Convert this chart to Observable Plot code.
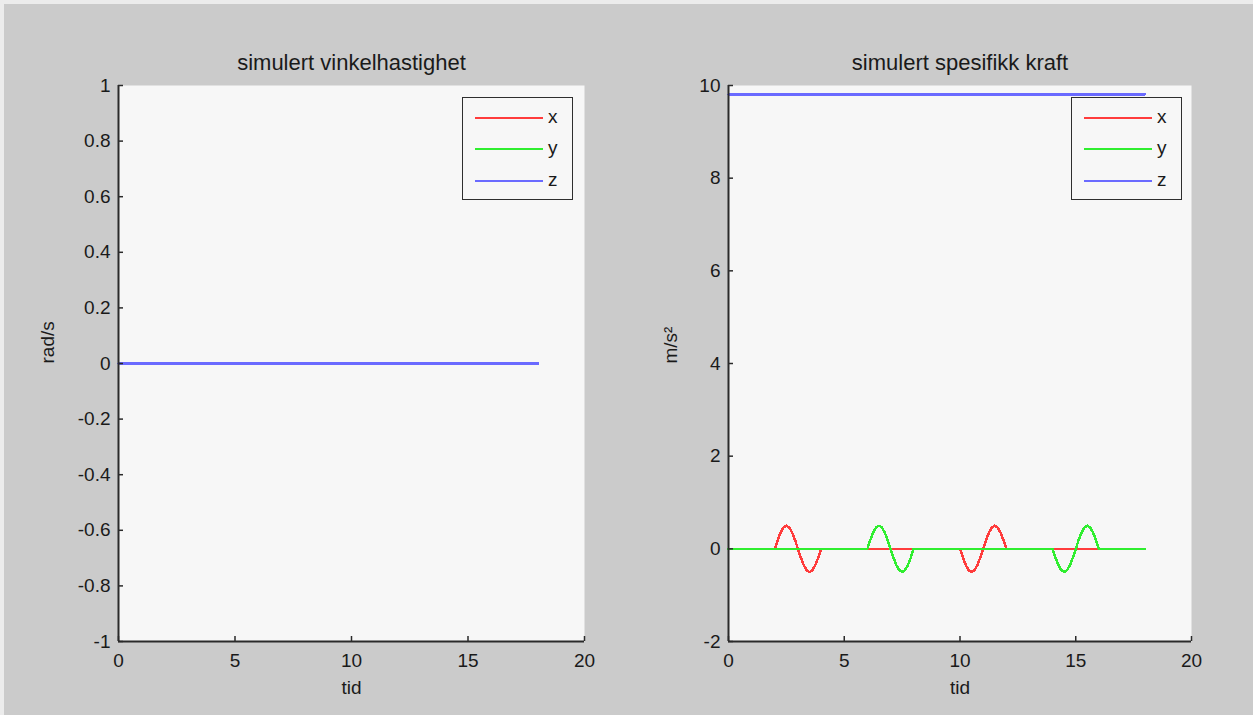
<!DOCTYPE html>
<html>
<head>
<meta charset="utf-8">
<script src="https://cdn.jsdelivr.net/npm/d3@7"></script>
<script src="https://cdn.jsdelivr.net/npm/@observablehq/plot@0.6"></script>
<style>
  html, body { margin: 0; padding: 0; background: #ececec; }
  body { width: 1253px; height: 715px; position: relative; overflow: hidden; }
  #fig { position: absolute; left: 4px; top: 4px; right: 0; bottom: 0; background: #cbcbcb; }
  .panel { position: absolute; top: 0; }
  .legend { position: absolute; top: 97px; width: 109px; height: 101px; border: 1.5px solid #2e2e2e;
            background: #f7f7f7; font: 19px "Liberation Sans", Arial, sans-serif; color: #1a1a1a; }
  .legend .swatch { position: absolute; left: 12px; width: 68px; height: 2px; }
  .legend .label { position: absolute; left: 85px; line-height: 20px; }
</style>
</head>
<body>
<div id="fig"></div>
<script>
// Series names and their line colours
const series = ["x", "y", "z"];
const seriesColors = ["#ff3c3c", "#30ee30", "#6a6aff"];

// Simulation time span and axis ticks
const tStart = 0;
const tEnd = 18;
const xTicks = [0, 5, 10, 15, 20];
const yTicksRate = [-1, -0.8, -0.6, -0.4, -0.2, 0, 0.2, 0.4, 0.6, 0.8, 1];
const yTicksForce = [-2, 0, 2, 4, 6, 8, 10];

// Angular rate (rad/s) is zero on all three axes throughout
const omegaLevel = [0, 0, 0];

// One 2 s disturbance period, sampled every 0.125 s (m/s^2)
const pulseStep = 0.125;
const pulse = [0, 0.19, 0.35, 0.46, 0.5, 0.46, 0.35, 0.19, 0,
               -0.19, -0.35, -0.46, -0.5, -0.46, -0.35, -0.19, 0];

// Where each disturbance begins and which way it swings first
const fxStarts = [2, 10];
const fxSigns = [1, -1];
const fyStarts = [6, 14];
const fySigns = [1, -1];
const fzLevel = 9.81;

// Build a time series: flat zero with the disturbance inserted at each start time
function pulsedSeries(name, starts, signs) {
  const rows = [{s: name, t: tStart, v: 0}];
  starts.forEach((t0, k) => {
    pulse.forEach((p, i) => rows.push({s: name, t: t0 + i * pulseStep, v: signs[k] * p}));
  });
  rows.push({s: name, t: tEnd, v: 0});
  return rows;
}

const rateData = series.flatMap((s, i) => [
  {s, t: tStart, v: omegaLevel[i]},
  {s, t: tEnd, v: omegaLevel[i]}
]);

const forceData = [
  ...pulsedSeries("x", fxStarts, fxSigns),
  ...pulsedSeries("y", fyStarts, fySigns),
  {s: "z", t: tStart, v: fzLevel},
  {s: "z", t: tEnd, v: fzLevel}
];

const axisInk = "#2a2a2a";
const textInk = "#1a1a1a";
const fontFamily = "'Liberation Sans', Arial, sans-serif";
const tickLen = 5;

function panel({title, ylabel, yDomain, yTicks, data, left, width, marginLeft, marginRight, ylabelOffset}) {
  const height = 715, marginTop = 85, marginBottom = 74;
  const frameW = width - marginLeft - marginRight;
  const frameH = height - marginTop - marginBottom;
  const chart = Plot.plot({
    width,
    height,
    marginLeft,
    marginRight,
    marginTop,
    marginBottom,
    style: {background: "transparent", fontFamily, fontSize: "19px", color: textInk},
    x: {domain: [0, 20]},
    y: {domain: yDomain},
    color: {domain: series, range: seriesColors},
    marks: [
      Plot.frame({fill: "#f7f7f7", stroke: null}),
      Plot.line(data, {x: "t", y: "v", z: "s", stroke: "s", strokeWidth: 2.5, shapeRendering: "crispEdges"}),
      // inward-pointing ticks along the bottom and left edges
      Plot.tickX(xTicks, {x: d => d, stroke: axisInk, strokeWidth: 1.5, insetTop: frameH - tickLen}),
      Plot.tickY(yTicks, {y: d => d, stroke: axisInk, strokeWidth: 1.5, insetRight: frameW - tickLen}),
      Plot.ruleX([0], {stroke: axisInk, strokeWidth: 2}),
      Plot.ruleY([yDomain[0]], {stroke: axisInk, strokeWidth: 2}),
      Plot.axisX({ticks: xTicks, tickFormat: d => String(d), tickSize: 0, tickPadding: 12,
                  fill: textInk, fontSize: 19, label: null}),
      Plot.axisY({ticks: yTicks, tickFormat: d => String(d), tickSize: 0, tickPadding: 8,
                  fill: textInk, fontSize: 19, label: null}),
      Plot.text([title], {text: d => d, frameAnchor: "top", dy: -31, fontSize: 22, fill: textInk}),
      Plot.text(["tid"], {text: d => d, frameAnchor: "bottom", dy: 52, fontSize: 19, fill: textInk}),
      Plot.text([ylabel], {text: d => d, frameAnchor: "left", dx: -ylabelOffset, rotate: -90, fontSize: 19, fill: textInk})
    ]
  });
  chart.classList.add("panel");
  chart.style.left = left + "px";
  document.body.appendChild(chart);
}

function legend(left) {
  const box = document.createElement("div");
  box.className = "legend";
  box.style.left = left + "px";
  series.forEach((s, i) => {
    const cy = 19.5 + i * 31.5;
    const sw = document.createElement("div");
    sw.className = "swatch";
    sw.style.top = (cy - 1) + "px";
    sw.style.background = seriesColors[i];
    const lb = document.createElement("div");
    lb.className = "label";
    lb.style.top = (cy - 11) + "px";
    lb.textContent = s;
    box.appendChild(sw);
    box.appendChild(lb);
  });
  document.body.appendChild(box);
}

panel({
  title: "simulert vinkelhastighet", ylabel: "rad/s",
  yDomain: [-1, 1], yTicks: yTicksRate, data: rateData,
  left: 0, width: 620, marginLeft: 118, marginRight: 36, ylabelOffset: 71
});
panel({
  title: "simulert spesifikk kraft", ylabel: "m/s²",
  yDomain: [-2, 10], yTicks: yTicksForce, data: forceData,
  left: 620, width: 633, marginLeft: 108, marginRight: 62, ylabelOffset: 58
});
legend(462);
legend(1071);
</script>
</body>
</html>
